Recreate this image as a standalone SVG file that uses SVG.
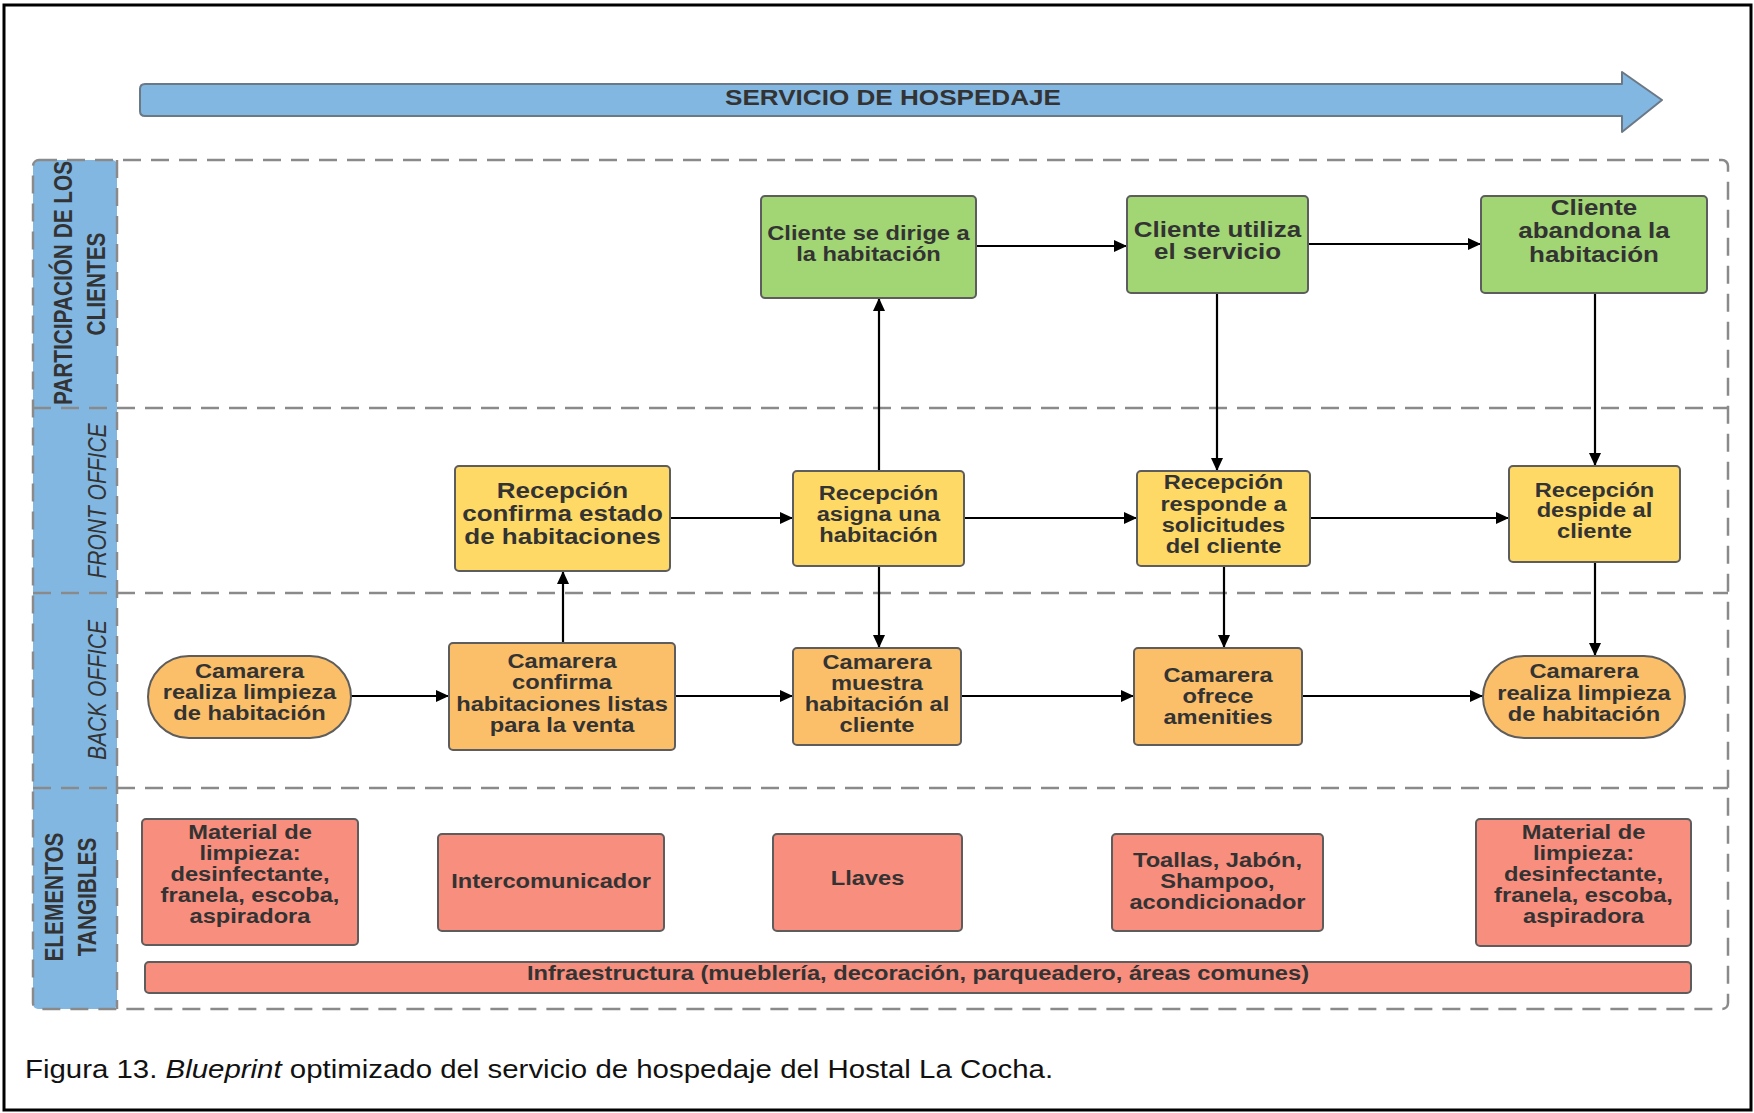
<svg xmlns="http://www.w3.org/2000/svg" width="1754" height="1113" viewBox="0 0 1754 1113">
  <style>
    .t { font-family: "Liberation Sans", Arial, sans-serif; font-weight: bold; fill: #333333; text-anchor: middle; }
    .s { font-size: 19.4px; }
    .b { font-size: 21.3px; }
    .lane-i { font-family: "Liberation Sans", Arial, sans-serif; font-style: italic; font-size: 21px; fill: #333333; text-anchor: middle; }
    .lane-b { font-family: "Liberation Sans", Arial, sans-serif; font-weight: bold; font-size: 20.8px; fill: #333333; text-anchor: middle; }
    .cap { font-family: "Liberation Sans", Arial, sans-serif; font-size: 26.5px; fill: #111111; }
    .green { fill: #a2d674; stroke: #5d5d5d; stroke-width: 2; }
    .yellow { fill: #fed966; stroke: #5d5d5d; stroke-width: 2; }
    .orange { fill: #fbbf6a; stroke: #5d5d5d; stroke-width: 2; }
    .red { fill: #f88e7e; stroke: #5d5d5d; stroke-width: 2; }
    .dash { fill: none; stroke: #8a8a8a; stroke-width: 2.5; stroke-dasharray: 18 10; }
    .edge { fill: none; stroke: #000000; stroke-width: 2.2; marker-end: url(#arrow); }
  </style>
  <defs>
    <marker id="arrow" markerUnits="userSpaceOnUse" markerWidth="13" markerHeight="12" refX="13" refY="6" orient="auto">
      <path d="M0,0 L13,6 L0,12 Z" fill="#000000"/>
    </marker>
  </defs>

  <rect width="1754" height="1113" fill="#ffffff"/>
  <!-- outer frame -->
  <rect x="4" y="5" width="1747" height="1105" fill="none" stroke="#000000" stroke-width="3"/>

  <!-- process banner -->
  <g id="banner">
    <path d="M145,84 H1622 V72 L1662,100 L1622,132 V116 H145 Q140,116 140,111 V89 Q140,84 145,84 Z" fill="#82b7e2" stroke="#6b7886" stroke-width="2" stroke-linejoin="round"/>
    <g transform="translate(893 0) scale(1.22 1)">
      <text class="t" x="0" y="105" font-size="21.4">SERVICIO DE HOSPEDAJE</text>
    </g>
  </g>

  <!-- swimlanes -->
  <g id="lanes">
    <rect x="33" y="160" width="84" height="849" rx="5" fill="#82b7e2"/>
    <rect x="33" y="160" width="1695" height="849" rx="6" class="dash"/>
    <line x1="117" y1="160" x2="117" y2="1009" class="dash"/>
    <line x1="33" y1="408" x2="1728" y2="408" class="dash"/>
    <line x1="33" y1="593" x2="1728" y2="593" class="dash"/>
    <line x1="33" y1="788" x2="1728" y2="788" class="dash"/>

    <g transform="translate(63 283) scale(1.22 1) rotate(-90)">
      <text class="lane-b" x="0" y="7.5">PARTICIPACIÓN DE LOS</text>
    </g>
    <g transform="translate(96 284) scale(1.22 1) rotate(-90)">
      <text class="lane-b" x="0" y="7.5">CLIENTES</text>
    </g>
    <g transform="translate(97 501) scale(1.25 1) rotate(-90)">
      <text class="lane-i" x="0" y="7.5">FRONT OFFICE</text>
    </g>
    <g transform="translate(97 690) scale(1.25 1) rotate(-90)">
      <text class="lane-i" x="0" y="7.5">BACK OFFICE</text>
    </g>
    <g transform="translate(54 897) scale(1.22 1) rotate(-90)">
      <text class="lane-b" x="0" y="7.3" font-size="21">ELEMENTOS</text>
    </g>
    <g transform="translate(87 897) scale(1.22 1) rotate(-90)">
      <text class="lane-b" x="0" y="7.3" font-size="20.5">TANGIBLES</text>
    </g>
  </g>

  <!-- connectors -->
  <g id="connectors">
    <path class="edge" d="M351,696 H449"/>
    <path class="edge" d="M563,643 V571"/>
    <path class="edge" d="M670,518 H793"/>
    <path class="edge" d="M675,696 H793"/>
    <path class="edge" d="M879,471 V298"/>
    <path class="edge" d="M879,566 V648"/>
    <path class="edge" d="M976,246 H1127"/>
    <path class="edge" d="M1308,244 H1481"/>
    <path class="edge" d="M1217,293 V471"/>
    <path class="edge" d="M964,518 H1137"/>
    <path class="edge" d="M1224,566 V648"/>
    <path class="edge" d="M961,696 H1134"/>
    <path class="edge" d="M1595,293 V466"/>
    <path class="edge" d="M1310,518 H1509"/>
    <path class="edge" d="M1595,562 V656"/>
    <path class="edge" d="M1302,696 H1483"/>
  </g>

  <!-- customer actions -->
  <g id="cliente-dirige">
    <rect class="green" x="761" y="196" width="215" height="102" rx="4"/>
    <g transform="translate(868.5 0) scale(1.22 1)">
      <text class="t s"><tspan x="0" y="240">Cliente se dirige a</tspan><tspan x="0" y="261">la habitación</tspan></text>
    </g>
  </g>
  <g id="cliente-utiliza">
    <rect class="green" x="1127" y="196" width="181" height="97" rx="4"/>
    <g transform="translate(1217.5 0) scale(1.22 1)">
      <text class="t b"><tspan x="0" y="237">Cliente utiliza</tspan><tspan x="0" y="259">el servicio</tspan></text>
    </g>
  </g>
  <g id="cliente-abandona">
    <rect class="green" x="1481" y="196" width="226" height="97" rx="4"/>
    <g transform="translate(1594 0) scale(1.22 1)">
      <text class="t b"><tspan x="0" y="215">Cliente</tspan><tspan x="0" y="238">abandona la</tspan><tspan x="0" y="262">habitación</tspan></text>
    </g>
  </g>

  <!-- front office -->
  <g id="recepcion-confirma">
    <rect class="yellow" x="455" y="466" width="215" height="105" rx="4"/>
    <g transform="translate(562.5 0) scale(1.22 1)">
      <text class="t b"><tspan x="0" y="498">Recepción</tspan><tspan x="0" y="521">confirma estado</tspan><tspan x="0" y="544">de habitaciones</tspan></text>
    </g>
  </g>
  <g id="recepcion-asigna">
    <rect class="yellow" x="793" y="471" width="171" height="95" rx="4"/>
    <g transform="translate(878.5 0) scale(1.22 1)">
      <text class="t s"><tspan x="0" y="500">Recepción</tspan><tspan x="0" y="521">asigna una</tspan><tspan x="0" y="542">habitación</tspan></text>
    </g>
  </g>
  <g id="recepcion-responde">
    <rect class="yellow" x="1137" y="471" width="173" height="95" rx="4"/>
    <g transform="translate(1223.5 0) scale(1.22 1)">
      <text class="t s"><tspan x="0" y="489">Recepción</tspan><tspan x="0" y="511">responde a</tspan><tspan x="0" y="532">solicitudes</tspan><tspan x="0" y="553">del cliente</tspan></text>
    </g>
  </g>
  <g id="recepcion-despide">
    <rect class="yellow" x="1509" y="466" width="171" height="96" rx="4"/>
    <g transform="translate(1594.5 0) scale(1.22 1)">
      <text class="t s"><tspan x="0" y="497">Recepción</tspan><tspan x="0" y="517">despide al</tspan><tspan x="0" y="538">cliente</tspan></text>
    </g>
  </g>

  <!-- back office -->
  <g id="camarera-limpieza-inicio">
    <rect class="orange" x="148" y="656" width="203" height="82" rx="41"/>
    <g transform="translate(249.5 0) scale(1.22 1)">
      <text class="t s"><tspan x="0" y="678">Camarera</tspan><tspan x="0" y="699">realiza limpieza</tspan><tspan x="0" y="720">de habitación</tspan></text>
    </g>
  </g>
  <g id="camarera-confirma">
    <rect class="orange" x="449" y="643" width="226" height="107" rx="4"/>
    <g transform="translate(562 0) scale(1.22 1)">
      <text class="t s"><tspan x="0" y="668">Camarera</tspan><tspan x="0" y="689">confirma</tspan><tspan x="0" y="711">habitaciones listas</tspan><tspan x="0" y="732">para la venta</tspan></text>
    </g>
  </g>
  <g id="camarera-muestra">
    <rect class="orange" x="793" y="648" width="168" height="97" rx="4"/>
    <g transform="translate(877 0) scale(1.22 1)">
      <text class="t s"><tspan x="0" y="669">Camarera</tspan><tspan x="0" y="690">muestra</tspan><tspan x="0" y="711">habitación al</tspan><tspan x="0" y="732">cliente</tspan></text>
    </g>
  </g>
  <g id="camarera-ofrece">
    <rect class="orange" x="1134" y="648" width="168" height="97" rx="4"/>
    <g transform="translate(1218 0) scale(1.22 1)">
      <text class="t s"><tspan x="0" y="682">Camarera</tspan><tspan x="0" y="703">ofrece</tspan><tspan x="0" y="724">amenities</tspan></text>
    </g>
  </g>
  <g id="camarera-limpieza-fin">
    <rect class="orange" x="1483" y="656" width="202" height="82" rx="41"/>
    <g transform="translate(1584 0) scale(1.22 1)">
      <text class="t s"><tspan x="0" y="678">Camarera</tspan><tspan x="0" y="700">realiza limpieza</tspan><tspan x="0" y="721">de habitación</tspan></text>
    </g>
  </g>

  <!-- tangible elements -->
  <g id="material-limpieza-1">
    <rect class="red" x="142" y="819" width="216" height="126" rx="4"/>
    <g transform="translate(250 0) scale(1.22 1)">
      <text class="t s"><tspan x="0" y="839">Material de</tspan><tspan x="0" y="860">limpieza:</tspan><tspan x="0" y="881">desinfectante,</tspan><tspan x="0" y="902">franela, escoba,</tspan><tspan x="0" y="923">aspiradora</tspan></text>
    </g>
  </g>
  <g id="intercomunicador">
    <rect class="red" x="438" y="834" width="226" height="97" rx="4"/>
    <g transform="translate(551 0) scale(1.22 1)">
      <text class="t s" x="0" y="888">Intercomunicador</text>
    </g>
  </g>
  <g id="llaves">
    <rect class="red" x="773" y="834" width="189" height="97" rx="4"/>
    <g transform="translate(867.5 0) scale(1.22 1)">
      <text class="t s" x="0" y="885">Llaves</text>
    </g>
  </g>
  <g id="amenities">
    <rect class="red" x="1112" y="834" width="211" height="97" rx="4"/>
    <g transform="translate(1217.5 0) scale(1.22 1)">
      <text class="t s"><tspan x="0" y="867">Toallas, Jabón,</tspan><tspan x="0" y="888">Shampoo,</tspan><tspan x="0" y="909">acondicionador</tspan></text>
    </g>
  </g>
  <g id="material-limpieza-2">
    <rect class="red" x="1476" y="819" width="215" height="127" rx="4"/>
    <g transform="translate(1583.5 0) scale(1.22 1)">
      <text class="t s"><tspan x="0" y="839">Material de</tspan><tspan x="0" y="860">limpieza:</tspan><tspan x="0" y="881">desinfectante,</tspan><tspan x="0" y="902">franela, escoba,</tspan><tspan x="0" y="923">aspiradora</tspan></text>
    </g>
  </g>
  <g id="infraestructura">
    <rect class="red" x="145" y="962" width="1546" height="31" rx="4"/>
    <g transform="translate(918 0) scale(1.22 1)">
      <text class="t s" x="0" y="980">Infraestructura (mueblería, decoración, parqueadero, áreas comunes)</text>
    </g>
  </g>

  <!-- figure caption -->
  <g transform="translate(25 0) scale(1.11 1)">
    <text class="cap" x="0" y="1078">Figura 13. <tspan font-style="italic">Blueprint</tspan> optimizado del servicio de hospedaje del Hostal La Cocha.</text>
  </g>
</svg>
